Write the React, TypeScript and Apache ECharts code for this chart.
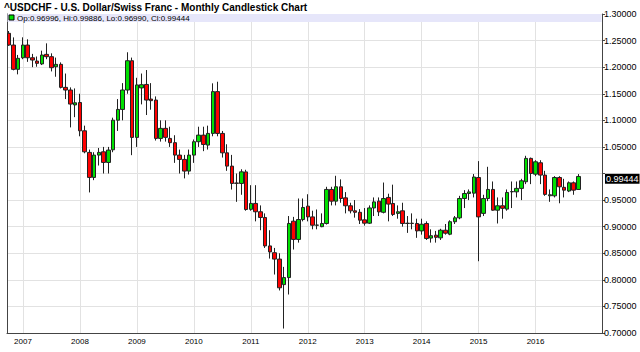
import { useEffect, useRef } from 'react';
import * as echarts from 'echarts';

const TITLE = '^USDCHF - U.S. Dollar/Swiss Franc - Monthly Candlestick Chart';
const LEGEND_TEXT = 'Op:0.96996, Hi:0.99886, Lo:0.96990, Cl:0.99444';
const LAST_CLOSE = 0.99444;

// Monthly candles from Oct 2006 to Oct 2016; x offset in months relative to Jan 2007
const FIRST_MONTH_OFFSET = -3;
const yearLabels = ['2007', '2008', '2009', '2010', '2011', '2012', '2013', '2014', '2015', '2016'];
const yearTickMonths = [0, 12, 24, 36, 48, 60, 72, 84, 96, 108];

const opens = [
  1.2637, 1.2416, 1.1959,
  1.2177, 1.2416, 1.2177, 1.2115, 1.2061, 1.2241, 1.2197, 1.2008, 1.2053, 1.1620, 1.1570, 1.1290,
  1.1335, 1.0803, 1.0397, 0.9926, 1.0346, 1.0408, 1.0208, 1.0446, 1.1003, 1.1205, 1.1570, 1.2121,
  1.0679, 1.1610, 1.1675, 1.1400, 1.1381, 1.0660, 1.0849, 1.0660, 1.0580, 1.0346, 1.0265, 1.0045,
  1.0346, 1.0598, 1.0722, 1.0534, 1.0754, 1.1540, 1.0754, 1.0389, 1.0139, 0.9820, 0.9813, 1.0030,
  0.9326, 0.9437, 0.9280, 0.9173, 0.8638, 0.8510, 0.8390, 0.7910, 0.8043, 0.9103, 0.8760, 0.9134,
  0.9386, 0.9184, 0.9027, 0.9000, 0.9060, 0.9700, 0.9480, 0.9750, 0.9542, 0.9393, 0.9298, 0.9270,
  0.9128, 0.9066, 0.9352, 0.9480, 0.9270, 0.9550, 0.9436, 0.9250, 0.9298, 0.9060, 0.9065, 0.9060,
  0.8920, 0.9060, 0.8785, 0.8840, 0.8790, 0.8933, 0.8858, 0.9093, 0.9166, 0.9530, 0.9624, 0.9630,
  0.9925, 0.9250, 0.9529, 0.9700, 0.9310, 0.9393, 0.9330, 0.9655, 0.9655, 0.9720, 0.9845, 1.0284,
  0.9988, 1.0202, 0.9970, 0.9581, 0.9580, 0.9925, 0.9740, 0.9670, 0.9825, 0.96996,
];

const closes = [
  1.2416, 1.1959, 1.2166,
  1.2416, 1.2177, 1.2134, 1.2072, 1.2228, 1.2197, 1.1990, 1.2053, 1.1620, 1.1570, 1.1306, 1.1330,
  1.0803, 1.0408, 0.9926, 1.0346, 1.0397, 1.0208, 1.0440, 1.1003, 1.1205, 1.1570, 1.2121, 1.0679,
  1.1666, 1.1670, 1.1381, 1.1370, 1.0660, 1.0849, 1.0680, 1.0580, 1.0346, 1.0265, 1.0045, 1.0346,
  1.0598, 1.0722, 1.0546, 1.0754, 1.1540, 1.0754, 1.0389, 1.0139, 0.9813, 0.9816, 1.0031, 0.9323,
  0.9437, 0.9280, 0.9173, 0.8638, 0.8525, 0.8390, 0.7850, 0.8043, 0.9060, 0.8760, 0.9134, 0.9361,
  0.9184, 0.9027, 0.9030, 0.9060, 0.9700, 0.9480, 0.9750, 0.9530, 0.9393, 0.9298, 0.9270, 0.9122,
  0.9066, 0.9352, 0.9466, 0.9278, 0.9529, 0.9424, 0.9230, 0.9280, 0.9060, 0.9065, 0.9060, 0.8920,
  0.9046, 0.8778, 0.8830, 0.8800, 0.8933, 0.8877, 0.9093, 0.9166, 0.9530, 0.9624, 0.9654, 0.9934,
  0.9184, 0.9529, 0.9700, 0.9310, 0.9393, 0.9345, 0.9643, 0.9660, 0.9720, 0.9863, 1.0284, 1.0000,
  1.0220, 0.9970, 0.9607, 0.9600, 0.9925, 0.9750, 0.9687, 0.9825, 0.9687, 0.99444,
];

const lows = [
  1.2400, 1.1940, 1.1865,
  1.2150, 1.2100, 1.2000, 1.2008, 1.2040, 1.2150, 1.1920, 1.1820, 1.1600, 1.1400, 1.0867, 1.1060,
  1.0700, 1.0380, 0.9644, 0.9875, 1.0150, 1.0000, 1.0000, 1.0400, 1.0800, 1.1000, 1.1500, 1.0345,
  1.0500, 1.1300, 1.1100, 1.1200, 1.0620, 1.0600, 1.0600, 1.0500, 1.0200, 1.0000, 0.9908, 0.9980,
  1.0200, 1.0500, 1.0420, 1.0450, 1.0700, 1.0700, 1.0300, 1.0050, 0.9698, 0.9467, 0.9600, 0.9300,
  0.9300, 0.9100, 0.8933, 0.8600, 0.8400, 0.8100, 0.7800, 0.7084, 0.7724, 0.8570, 0.8700, 0.9100,
  0.9100, 0.8950, 0.8950, 0.8990, 0.9040, 0.9400, 0.9400, 0.9450, 0.9250, 0.9250, 0.9170, 0.9050,
  0.9020, 0.9050, 0.9200, 0.9200, 0.9250, 0.9100, 0.9200, 0.9150, 0.9000, 0.8883, 0.8950, 0.8790,
  0.8850, 0.8750, 0.8700, 0.8700, 0.8750, 0.8850, 0.8840, 0.9050, 0.9140, 0.9350, 0.9500, 0.9550,
  0.8350, 0.9200, 0.9480, 0.9300, 0.9060, 0.9150, 0.9300, 0.9350, 0.9550, 0.9500, 0.9800, 0.9800,
  0.9950, 0.9800, 0.9580, 0.9467, 0.9550, 0.9440, 0.9550, 0.9650, 0.9600, 0.96990,
];

const highs = [
  1.2680, 1.2560, 1.2230,
  1.2561, 1.2524, 1.2250, 1.2200, 1.2310, 1.2448, 1.2260, 1.2180, 1.2090, 1.1880, 1.1620, 1.1600,
  1.1500, 1.0900, 1.0450, 1.0400, 1.0480, 1.0500, 1.0500, 1.1050, 1.1400, 1.1700, 1.2280, 1.2180,
  1.1800, 1.1880, 1.1946, 1.1700, 1.1450, 1.1000, 1.1000, 1.0880, 1.0720, 1.0450, 1.0350, 1.0450,
  1.0640, 1.0880, 1.0880, 1.0900, 1.1696, 1.1726, 1.0800, 1.0550, 1.0350, 1.0000, 1.0080, 1.0070,
  0.9780, 0.9780, 0.9400, 0.9250, 0.8933, 0.8600, 0.8500, 0.8244, 0.9200, 0.9184, 0.9530, 0.9530,
  0.9610, 0.9300, 0.9323, 0.9250, 0.9750, 0.9750, 0.9957, 0.9890, 0.9650, 0.9450, 0.9500, 0.9330,
  0.9350, 0.9400, 0.9550, 0.9550, 0.9830, 0.9620, 0.9790, 0.9400, 0.9450, 0.9200, 0.9250, 0.9150,
  0.9150, 0.9100, 0.8950, 0.8920, 0.8960, 0.9050, 0.9120, 0.9200, 0.9580, 0.9687, 0.9700, 0.9990,
  1.0233, 0.9600, 1.0126, 0.9850, 0.9550, 0.9550, 0.9700, 0.9850, 0.9850, 0.9900, 1.0333, 1.0300,
  1.0250, 1.0250, 1.0050, 0.9700, 0.9950, 0.9950, 0.9900, 0.9850, 0.9850, 0.99886,
];

const FONT = '"Liberation Sans", Arial, sans-serif';

export default function App() {
  const ref = useRef<HTMLDivElement>(null);

  useEffect(() => {
    if (!ref.current) return;
    const chart = echarts.init(ref.current, undefined, { renderer: 'svg' });
    const data = opens.map((o, i) => [i + FIRST_MONTH_OFFSET, o, closes[i], lows[i], highs[i]]);

    chart.setOption({
      animation: false,
      backgroundColor: '#ffffff',
      textStyle: { fontFamily: FONT },
      title: {
        text: TITLE,
        left: 4,
        top: 1,
        padding: 0,
        textStyle: {
          fontSize: 10,
          lineHeight: 12,
          fontWeight: 'bold',
          color: '#000',
          fontFamily: FONT,
        },
      },
      grid: { left: 7, right: 38, top: 14, bottom: 19, containLabel: false },
      xAxis: {
        type: 'value',
        min: -3.37,
        max: 122,
        axisLine: { show: true, onZero: false, lineStyle: { color: '#444', width: 1 } },
        axisTick: { show: false, customValues: yearTickMonths },
        axisLabel: {
          customValues: yearTickMonths,
          formatter: (v: number) => yearLabels[yearTickMonths.indexOf(Math.round(v))] ?? '',
          fontSize: 8,
          color: '#000',
          margin: 4,
          fontFamily: FONT,
        },
        splitLine: { show: true, lineStyle: { color: '#e2e2e2', width: 1 } },
      },
      yAxis: [
        {
          type: 'value',
          position: 'right',
          min: 0.7,
          max: 1.3,
          interval: 0.05,
          axisLine: { show: true, onZero: false, lineStyle: { color: '#444', width: 1 } },
          axisTick: { show: true, length: 3, lineStyle: { color: '#444' } },
          axisLabel: {
            fontSize: 9,
            color: '#000',
            margin: 2,
            fontFamily: FONT,
            formatter: (v: number) => (Math.abs(v - 1) < 1e-6 ? '' : v.toFixed(5)),
          },
          splitLine: { show: true, lineStyle: { color: '#e2e2e2', width: 1 } },
        },
        {
          type: 'value',
          position: 'left',
          min: 0.7,
          max: 1.3,
          interval: 0.05,
          axisLine: { show: true, onZero: false, lineStyle: { color: '#444', width: 1 } },
          axisTick: { show: false },
          axisLabel: { show: false },
          splitLine: { show: false },
        },
      ],
      graphic: [
        {
          type: 'rect',
          shape: { x: 7.5, y: 14, width: 594, height: 8 },
          style: { fill: '#e6e6fa' },
          z: 10,
        },
        {
          type: 'rect',
          shape: { x: 9, y: 15, width: 5, height: 5 },
          style: { fill: '#00e000', stroke: '#000', lineWidth: 1 },
          z: 11,
        },
        {
          type: 'text',
          x: 17,
          y: 18,
          style: {
            text: LEGEND_TEXT,
            fontSize: 8,
            fill: '#000',
            fontFamily: FONT,
            verticalAlign: 'middle',
          },
          z: 11,
        },
      ],
      series: [
        {
          type: 'candlestick',
          data,
          barWidth: 4,
          clip: true,
          itemStyle: {
            color: '#00e000',
            color0: '#ff0000',
            borderColor: '#222',
            borderColor0: '#222',
            borderWidth: 1,
          },
          markLine: {
            silent: true,
            symbol: ['none', 'none'],
            lineStyle: { color: 'rgba(0,0,0,0)', width: 0, type: 'solid' },
            data: [{ yAxis: LAST_CLOSE }],
            label: {
              show: true,
              position: 'end',
              distance: 3,
              formatter: LAST_CLOSE.toFixed(5),
              backgroundColor: '#000',
              color: '#fff',
              fontSize: 9,
              fontFamily: FONT,
              padding: [1, 1, 0, 1],
            },
          },
        },
      ],
    });

    return () => chart.dispose();
  }, []);

  return (
    <div
      ref={ref}
      style={{ position: 'fixed', left: 0, top: 0, width: 640, height: 352 }}
    />
  );
}
